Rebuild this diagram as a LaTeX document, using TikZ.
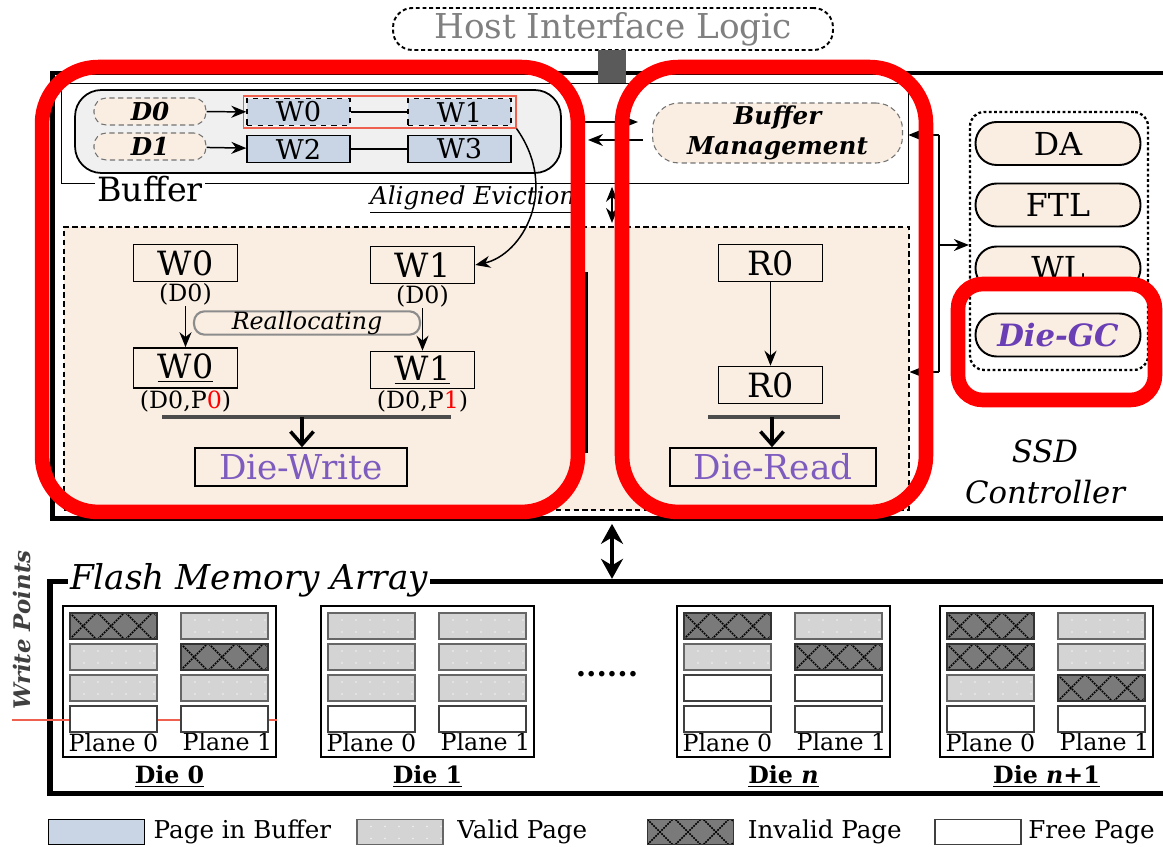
\documentclass[tikz,border=0pt]{standalone}
\usepackage{fontspec}
\setmainfont{DejaVu Serif}
\usepackage{tikz}
\usetikzlibrary{arrows.meta,positioning,calc}
\definecolor{hl}{HTML}{FF0000}
\definecolor{soft}{HTML}{FAEEE2}
\definecolor{bufpg}{HTML}{C9D5E5}
\definecolor{shell}{HTML}{F0F0F0}
\definecolor{ink}{HTML}{7E5BBE}
\definecolor{inkgc}{HTML}{6A3FB5}
\definecolor{mute}{HTML}{808080}
\definecolor{port}{HTML}{5A5A5A}
\definecolor{wline}{HTML}{F0604F}
\definecolor{valid}{HTML}{D4D4D4}
\definecolor{invalid}{HTML}{7A7A7A}
\tikzset{
  >={Stealth[length=3mm,width=2.4mm]},
  arr/.style={->,line width=0.85pt},
  fatarr/.style={-{Straight Barb[length=2.6mm,width=4.6mm,line width=2pt]},line width=2pt},
  dblarr/.style={{Stealth[length=4mm,width=4.4mm]}-{Stealth[length=4mm,width=4.4mm]},line width=2pt},
  hostbox/.style={draw,line width=1.1pt,dash pattern=on 2.2pt off 1.6pt,rounded corners=11pt,
    minimum width=8.8cm,minimum height=0.84cm,text=mute,font=\fontsize{19.5}{21}\selectfont},
  bufframe/.style={line width=0.85pt},
  shellbox/.style={draw,line width=1pt,fill=shell,rounded corners=15pt,minimum width=9.72cm,minimum height=1.66cm},
  dpill/.style={draw=black!55,densely dashed,line width=0.6pt,fill=soft,rounded corners=7pt,inner sep=0pt,
    minimum width=2.24cm,minimum height=0.54cm,font=\bfseries\itshape\fontsize{14}{15}\selectfont},
  pgbox/.style={draw,line width=0.8pt,fill=bufpg,inner sep=0pt,minimum width=2.06cm,minimum height=0.53cm,
    font=\fontsize{15.5}{16}\selectfont},
  bmpill/.style={draw=black!55,densely dashed,line width=0.6pt,fill=soft,rounded corners=15pt,inner sep=0pt,
    minimum width=5cm,minimum height=1.2cm,align=center,font=\bfseries\itshape\fontsize{14}{17}\selectfont},
  procbox/.style={draw,line width=0.7pt,dash pattern=on 3pt off 2pt,fill=soft,minimum width=16.9cm,minimum height=5.66cm},
  wbox/.style={draw,line width=0.9pt,inner sep=0pt,minimum width=2.08cm,minimum height=0.74cm,font=\fontsize{19}{20}\selectfont},
  tag/.style={inner sep=0.5pt,font=\fontsize{13.5}{15}\selectfont},
  rpill/.style={draw=black!45,line width=1.2pt,fill=soft,rounded corners=6pt,inner sep=0pt,
    minimum width=4.52cm,minimum height=0.46cm,font=\itshape\fontsize{13.5}{14}\selectfont},
  wbar/.style={line width=2.6pt,draw=black!70},
  diebox/.style={draw,line width=0.9pt,inner sep=0pt,minimum height=0.76cm,text=ink,font=\fontsize{19.5}{20}\selectfont},
  grpbox/.style={draw,line width=1.3pt,dash pattern=on 1.6pt off 1.4pt,rounded corners=8pt,minimum width=3.56cm,minimum height=5.16cm},
  fpill/.style={draw,line width=1.1pt,fill=soft,rounded corners=12pt,inner sep=0pt,minimum width=3.3cm,minimum height=0.86cm,
    font=\fontsize{18}{19}\selectfont},
  hlbox/.style={draw=hl,line width=8.3pt,rounded corners=32pt},
  diefr/.style={draw,line width=0.9pt,fill=white,minimum width=4.26cm,minimum height=3.02cm},
  planelab/.style={inner sep=0pt,font=\fontsize{13.5}{15}\selectfont},
  dielab/.style={inner sep=0pt,font=\bfseries\fontsize{13.5}{15}\selectfont},
  pg/.style={inner sep=0pt,outer sep=0pt,minimum width=1.74cm,minimum height=0.52cm,line width=0.8pt},
  pgv/.style={pg,draw=black!60,fill=valid,path picture={
    \foreach \k in {1,...,6}
      \fill[white!70!valid] ($(path picture bounding box.north west)+(14*\k,7)$) circle (0.5pt)
        ($(path picture bounding box.north west)+(14*\k,19)$) circle (0.5pt);}},
  pgf/.style={pg,draw=black!75,fill=white},
  pgi/.style={pg,draw=black!80,fill=invalid,path picture={
    \foreach \k in {-1,...,4}{
      \draw[black,line width=0.9pt,dash pattern=on 1pt off 0.6pt]
        ($(path picture bounding box.south west)+(28*\k,0)$) -- ++(26,-26);
      \draw[black,line width=0.9pt,dash pattern=on 1pt off 0.6pt]
        ($(path picture bounding box.north west)+(28*\k,0)$) -- ++(26,26);
    }}},
  legtxt/.style={inner sep=0pt,anchor=west,font=\fontsize{14}{16}\selectfont},
}

\begin{document}
\begin{tikzpicture}[x=0.02cm,y=-0.02cm,every node/.style={inner sep=1pt}]
\useasboundingbox (0,0) rectangle (1163,847);

% controller shell and host port
\node[hostbox] (hil) at (613,29) {Host Interface Logic};
\node[draw,line width=2.8pt,minimum width=22.56cm,minimum height=8.92cm] (ssd) at (616,296) {};
\node[fill=port,inner sep=0pt,minimum width=0.56cm,minimum height=0.68cm] (hport) at (612,67) {};

% buffer
\node[minimum width=16.92cm,minimum height=1.98cm,inner sep=0pt] (buf) at (485,133.5) {};
\node[font=\fontsize{19}{22}\selectfont] (buflab) at (150,189) {Buffer};
\draw[bufframe] (buflab.west |- buf.south) -| (buf.north west) -- (buf.north east) |- (buflab.east |- buf.south);
\node[shellbox] (sh) at (318,131.5) {};
\node[dpill] (d0) at (150,111.5) {D0};
\node[dpill] (d1) at (150,146.5) {D1};
\node[pgbox,dashed] (bw0) at (298.5,112) {W0};
\node[pgbox,dashed] (bw1) at (459.5,112) {W1};
\node[pgbox] (bw2) at (298.5,149) {W2};
\node[pgbox] (bw3) at (459.5,149) {W3};
\node[draw=wline,line width=0.6pt,inner sep=0pt,minimum width=5.46cm,minimum height=0.64cm] (evict) at (379.5,112) {};
\draw[arr] (d0) -- (bw0);
\draw[arr] (d1) -- (bw2);
\draw[line width=0.85pt] (bw0) -- (bw1);
\draw[line width=0.85pt] (bw2) -- (bw3);
\node[anchor=west,font=\itshape\fontsize{14}{15}\selectfont] (ae) at (368,200) {\underline{Aligned Eviction}};

\node[bmpill] (bm) at (777.5,133) {Buffer\\Management};
\coordinate (bx1) at (584,122);
\coordinate (bx2) at (588,140);
\draw[arr,shorten >=8pt] (bx1) -- (bx1 -| bm.west);
\draw[arr,shorten <=5pt] (bx2 -| bm.west) -- (bx2);

% die-level write / read
\node[procbox] (proc) at (486.5,368.5) {};
\coordinate (vx) at (612,0);
\draw[<->,line width=0.85pt,shorten <=2pt,shorten >=2pt] (vx |- buf.south) -- (vx |- proc.north);

\node[wbox] (w0a) at (185.5,263) {W0};
\node[wbox] (w1a) at (422.5,265) {W1};
\node[tag,below=0pt of w0a] (ta0) {(D0)};
\node[tag,below=0pt of w1a] (ta1) {(D0)};
\node[rpill] (realloc) at (307,323) {Reallocating};
\node[wbox,minimum height=0.8cm] (w0b) at (185.5,368) {\underline{W0}};
\node[wbox] (w1b) at (422.5,370) {\underline{W1}};
\node[tag,below=0pt of w0b] (tb0) {(D0,P\textcolor{red}{0})};
\node[tag,below=0pt of w1b] (tb1) {(D0,P\textcolor{red}{1})};
\draw[arr] (ta0) -- (w0b);
\draw[arr] (ta1) -- (w1b);
\draw[arr] (evict.south east) .. controls (560,190) and (522,255) .. (w1a.east);
\draw[wbar] (162,417) -- (451,417);
\coordinate (wj) at (302,417);
\node[diebox,minimum width=4.24cm] (dw) at (301,467) {Die-Write};
\draw[fatarr] (wj) -- (wj |- dw.north);
\draw[line width=1.7pt] (586,272) -- (586,453);

\node[wbox] (r0a) at (770.5,263) {R0};
\node[wbox] (r0b) at (770.5,385) {R0};
\draw[arr] (r0a) -- (r0b);
\draw[wbar] (708,417) -- (840,417);
\coordinate (rj) at (772,417);
\node[diebox,minimum width=4.12cm] (dr) at (773,467) {Die-Read};
\draw[fatarr] (rj) -- (rj |- dr.north);

% controller modules
\node[grpbox] (grp) at (1059,241) {};
\node[fpill] (da) at (1058,143.5) {DA};
\node[fpill] (ftl) at (1058,205) {FTL};
\node[fpill] (wl) at (1058,268) {WL};
\node[fpill,text=inkgc,font=\bfseries\itshape\fontsize{17.5}{19}\selectfont] (gc) at (1058,335) {Die-GC};
\node[align=center,font=\itshape\fontsize{17.5}{23}\selectfont] (ssdlab) at (1045,472) {SSD\\Controller};
\coordinate (jt) at (939,135);
\coordinate (jm) at (939,245);
\coordinate (jb) at (939,372);
\draw[line width=0.85pt] (jt) -- (jb);
\draw[arr] (jt) -- (jt -| buf.east);
\draw[arr] (jb) -- (jb -| proc.east);
\draw[arr] (jm) -- (jm -| grp.west);

% flash array
\node[minimum width=22.6cm,minimum height=4.22cm,inner sep=0pt] (fma) at (615,687.5) {};
\node[anchor=west,font=\itshape\fontsize{19.5}{21}\selectfont] (fmalab) at (68,580) {Flash Memory Array};
\draw[line width=3.2pt] (fmalab.west |- fma.north) -| (fma.south west) -- (fma.south east);
\draw[line width=3.2pt] (fmalab.east |- fma.north) -- (fma.north east);
\draw[dblarr,shorten <=1.4pt,shorten >=1.6pt] (vx |- ssd.south) -- (vx |- fma.north);
\node[rotate=90,text=black!75,font=\bfseries\itshape\fontsize{13}{14}\selectfont] (wp) at (22,630) {Write Points};

\foreach \cx/\dn/\lab in {169.5/d0/{Die 0},427.5/d1/{Die 1},783.5/dn/{Die \textit{n}},1046.5/dm/{Die \textit{n}+1}}{
  \node[diefr] (\dn) at (\cx,681.5) {};
  \node[planelab] (\dn-l0) at (\cx-56,743) {Plane 0};
  \node[planelab] (\dn-l1) at (\cx+58,742) {Plane 1};
  \node[dielab] (\dn-lab) at (\cx,776) {\underline{\lab}};
}
\coordinate (wpl) at (12,720);
\draw[wline,line width=1.3pt] (wpl) -- (wpl -| d0.east);
\foreach \cx/\dn/\ta/\tb in {169.5/d0/{i,v,v,f}/{v,i,v,f},427.5/d1/{v,v,v,f}/{v,v,v,f},
    783.5/dn/{i,v,f,f}/{v,i,f,f},1046.5/dm/{i,i,v,f}/{v,v,i,f}}{
  \foreach \t [count=\r from 0] in \ta
    \node[pg\t] (\dn-a\r) at (\cx-56,626+31*\r) {};
  \foreach \t [count=\r from 0] in \tb
    \node[pg\t] (\dn-b\r) at (\cx+55,626+31*\r) {};
}
\node[font=\bfseries\fontsize{17}{18}\selectfont] (dots) at (607,674) {......};

% legend
\node[pg,draw,fill=bufpg,minimum width=1.92cm,minimum height=0.5cm] (lg1) at (96.5,832) {};
\node[legtxt,right=5pt of lg1] (lt1) {Page in Buffer};
\node[pgv,minimum width=1.72cm,minimum height=0.5cm] (lg2) at (400,832) {};
\node[legtxt,right=8pt of lg2] (lt2) {Valid Page};
\node[pgi,minimum width=1.72cm,minimum height=0.5cm] (lg3) at (690.5,832) {};
\node[legtxt,right=8pt of lg3] (lt3) {Invalid Page};
\node[pgf,minimum width=1.72cm,minimum height=0.5cm] (lg4) at (978,832) {};
\node[legtxt,right=4pt of lg4] (lt4) {Free Page};

% highlighted parts
\node[hlbox,minimum width=10.72cm,minimum height=8.9cm] (hlw) at (310,289.5) {};
\node[hlbox,minimum width=6.08cm,minimum height=8.9cm] (hlr) at (774,289.5) {};
\node[hlbox,rounded corners=14pt,minimum width=3.94cm,minimum height=2.32cm] (hlg) at (1056.5,342) {};
\end{tikzpicture}
\end{document}
